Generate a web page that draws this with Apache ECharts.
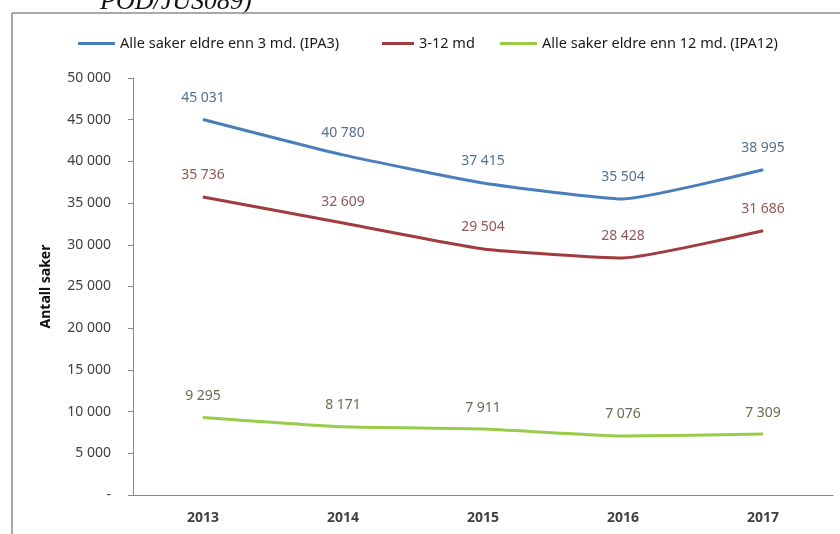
<!DOCTYPE html>
<html>
<head>
<meta charset="utf-8">
<script src="https://cdn.jsdelivr.net/npm/echarts@6/dist/echarts.min.js"></script>
<style>
    html, body { margin: 0; padding: 0; background: #fff; }
    #saker { width: 840px; height: 534px; }
</style>
</head>
<body>
<div id="saker"></div>
<script>
// data
var years = ['2013', '2014', '2015', '2016', '2017'];
var ipa3 = [45031, 40780, 37415, 35504, 38995];
var mnd3til12 = [35736, 32609, 29504, 28428, 31686];
var ipa12 = [9295, 8171, 7911, 7076, 7309];
var names = ['Alle saker eldre enn 3 md. (IPA3)', '3-12 md', 'Alle saker eldre enn 12 md. (IPA12)'];

function fmt(v) {
    if (v === 0) {
        return '-';
    }
    return String(v).replace(/\B(?=(\d{3})+(?!\d))/g, ' ');
}

var chart = echarts.init(document.getElementById('saker'));

function lineSerie(name, data, color, labelColor) {
    return {
        name : name,
        type : 'line',
        data : data,
        symbol : 'circle',
        symbolSize : 1,
        smooth : 0.15,
        lineStyle : {
            color : color,
            width : 3
        },
        itemStyle : {
            color : color
        },
        label : {
            show : true,
            position : 'top',
            distance : 14,
            color : labelColor,
            fontFamily : 'Noto Sans',
            fontSize : 14,
            formatter : function(p) {
                return fmt(p.value);
            }
        }
    };
}

var legendText = {
    color : '#1a1a1a',
    fontFamily : 'Noto Sans',
    fontSize : 14.5
};

// tre legender, plassert hver for seg
function legendAt(name, left, w) {
    return {
        data : [ name ],
        left : left,
        top : 31,
        icon : 'rect',
        itemWidth : w,
        itemHeight : 3,
        itemGap : 2,
        textStyle : legendText
    };
}

chart.setOption({
    animation : false,
    textStyle : {
        fontFamily : 'Noto Sans'
    },
    legend : [ legendAt(names[0], 73, 37), legendAt(names[1], 377, 32), legendAt(names[2], 495, 37) ],
    grid : {
        left : 133,
        right : 7,
        top : 78,
        bottom : 39
    },
    xAxis : {
        type : 'category',
        data : years,
        axisLine : {
            lineStyle : {
                color : '#8a8a8a'
            }
        },
        axisTick : {
            length : 5,
            lineStyle : {
                color : '#8a8a8a'
            }
        },
        axisLabel : {
            color : '#404040',
            fontWeight : 'bold',
            fontSize : 14,
            margin : 16
        }
    },
    yAxis : {
        type : 'value',
        min : 0,
        max : 50000,
        interval : 5000,
        name : 'Antall saker',
        nameLocation : 'middle',
        nameGap : 80,
        nameTextStyle : {
            color : '#111',
            fontWeight : 'bold',
            fontSize : 14
        },
        axisLine : {
            show : true,
            lineStyle : {
                color : '#8a8a8a'
            }
        },
        axisTick : {
            show : true,
            length : 5,
            lineStyle : {
                color : '#8a8a8a'
            }
        },
        splitLine : {
            show : false
        },
        axisLabel : {
            color : '#404040',
            fontSize : 14,
            margin : 22,
            formatter : fmt
        }
    },
    series : [
        lineSerie(names[0], ipa3, '#4a7ebb', '#56708e'),
        lineSerie(names[1], mnd3til12, '#a13b3e', '#955656'),
        lineSerie(names[2], ipa12, '#98cd4a', '#6a6a52')
    ],
    // ramme og avkuttet tekst fra skannet side
    graphic : [ {
        type : 'text',
        left : 100,
        top : -11,
        style : {
            text : 'POD/JUS089)',
            fill : '#111',
            font : 'italic 26px "Liberation Serif"'
        }
    }, {
        type : 'line',
        shape : { x1 : 12, y1 : 13, x2 : 840, y2 : 13 },
        style : { stroke : '#8c8c8c', lineWidth : 1.5 }
    }, {
        type : 'line',
        shape : { x1 : 12, y1 : 13, x2 : 12, y2 : 534 },
        style : { stroke : '#8c8c8c', lineWidth : 1.5 }
    } ]
});
</script>
</body>
</html>
